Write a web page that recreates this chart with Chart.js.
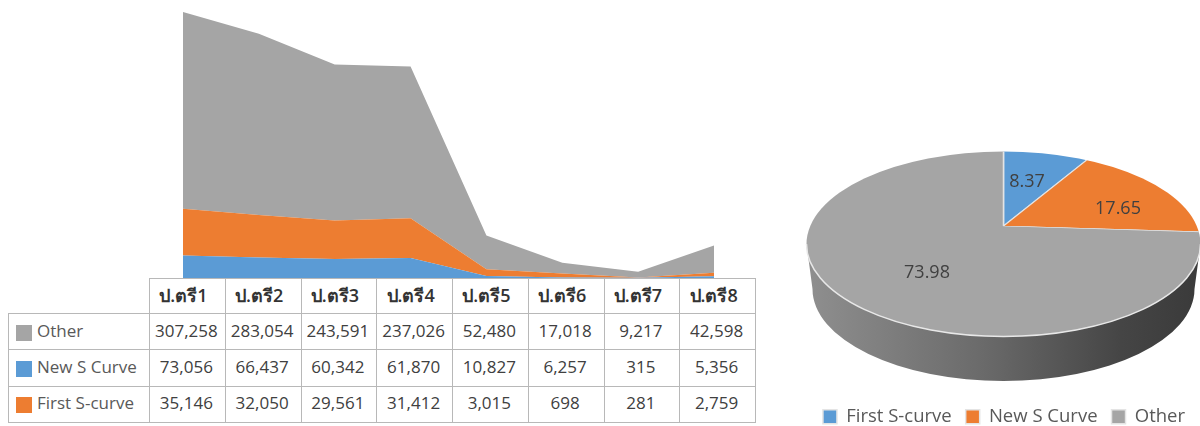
<!DOCTYPE html>
<html>
<head>
<meta charset="utf-8">
<title>S-curve</title>
<script src="https://cdn.jsdelivr.net/npm/chart.js@4"></script>
<style>
  html, body { margin: 0; padding: 0; background: #fff; width: 1200px; height: 426px; overflow: hidden; }
  body { position: relative; font-family: "Open Sans", "Noto Sans", sans-serif; color: #404040; }
  #areaChart { position: absolute; left: 183px; top: 12px; }
  #pieChart { position: absolute; left: 800px; top: 0; }
  #dataTable { position: absolute; left: 8px; top: 278px; border-collapse: collapse; table-layout: fixed; width: 747px; }
  #dataTable td, #dataTable th { box-sizing: border-box; border: 1.5px solid #b8b8b8; padding: 0 2px 3px 0; text-align: center; font-size: 17px; height: 36.3px; white-space: nowrap; }
  #dataTable th { font-weight: 600; font-size: 18px; color: #333; padding: 0 8px 2px 0; height: 35px; }
  #dataTable .blank { border-top: none; border-left: none; }
  #dataTable .name { text-align: left; padding-left: 7px; padding-right: 0; color: #595959; }
  .swatch { display: inline-block; width: 16px; height: 16px; margin-right: 5px; vertical-align: -4px; }
</style>
</head>
<body>
<canvas id="areaChart" width="531" height="266"></canvas>
<canvas id="pieChart" width="408" height="436"></canvas>
<table id="dataTable"></table>
<script>
// tables and series
const LEVELS = ["ป.ตรี1", "ป.ตรี2", "ป.ตรี3", "ป.ตรี4", "ป.ตรี5", "ป.ตรี6", "ป.ตรี7", "ป.ตรี8"];
const OTHER = [307258, 283054, 243591, 237026, 52480, 17018, 9217, 42598];
const NEW_S = [73056, 66437, 60342, 61870, 10827, 6257, 315, 5356];
const FIRST_S = [35146, 32050, 29561, 31412, 3015, 698, 281, 2759];

const SHARE_LABELS = ["First S-curve", "New S Curve", "Other"];
const SHARES = [8.37, 17.65, 73.98];

const BLUE = "#5b9bd5", ORANGE = "#ed7d31", GREY = "#a5a5a5";
const fmt = (n) => n.toLocaleString("en-US");

// --- table -------------------------------------------------------------------
// note: the original's table legend has the blue/orange keys swapped against the area, kept as is
const rows = [
  { name: "Other", color: GREY, values: OTHER },
  { name: "New S Curve", color: BLUE, values: NEW_S },
  { name: "First S-curve", color: ORANGE, values: FIRST_S },
];
document.getElementById("dataTable").innerHTML =
  `<colgroup><col style="width:141px">${LEVELS.map(() => `<col style="width:75.75px">`).join("")}</colgroup>` +
  `<tr><th class="blank"></th>${LEVELS.map((l) => `<th>${l}</th>`).join("")}</tr>` +
  rows.map((r) =>
    `<tr><td class="name"><span class="swatch" style="background:${r.color}"></span>${r.name}</td>` +
    r.values.map((v) => `<td>${fmt(v)}</td>`).join("") + `</tr>`).join("");

// --- stacked area ------------------------------------------------------------
function areaSet(label, data, color, fill) {
  return { label, data, backgroundColor: color, borderWidth: 0, pointRadius: 0, tension: 0, fill };
}
new Chart(document.getElementById("areaChart"), {
  type: "line",
  data: {
    labels: LEVELS,
    datasets: [
      areaSet("First S-curve", FIRST_S, BLUE, "origin"),
      areaSet("New S Curve", NEW_S, ORANGE, "-1"),
      areaSet("Other", OTHER, GREY, "-1"),
    ],
  },
  options: {
    responsive: false,
    animation: false,
    layout: { padding: 0 },
    plugins: { legend: { display: false }, tooltip: { enabled: false } },
    scales: {
      x: { display: false, offset: false },
      y: { display: false, stacked: true, min: 0, max: 415460 },
    },
  },
});

// --- pie with a fake 3D look -------------------------------------------------
// The original is a perspective pie: the apex sits above the middle of the top face.
// So the pie is drawn squashed around the apex and clipped to the face ellipse.
const FACE = { x: 203.5, y: 244, rx: 197, ry: 92.5 };
const APEX = { x: 203.5, y: 226 };
const SQUASH = 0.46;
const LABEL_POS = [[227, 182], [318, 209], [127, 273]];

const pie3d = {
  id: "pie3d",
  beforeDatasetsDraw(chart) {
    const ctx = chart.ctx;
    // rim
    const g = ctx.createLinearGradient(FACE.x - FACE.rx, 0, FACE.x + FACE.rx, 0);
    g.addColorStop(0, "#8f8f8f");
    g.addColorStop(0.45, "#6a6a6a");
    g.addColorStop(0.8, "#454545");
    g.addColorStop(1, "#3a3a3a");
    ctx.save();
    ctx.fillStyle = g;
    ctx.beginPath();
    ctx.moveTo(FACE.x - FACE.rx, FACE.y);
    ctx.lineTo(FACE.x - 191, 289);
    ctx.ellipse(FACE.x, 289, 191, 92, 0, Math.PI, 0, true);
    ctx.lineTo(FACE.x + FACE.rx, FACE.y);
    ctx.closePath();
    ctx.fill();
    ctx.restore();
    // face
    const arc = chart.getDatasetMeta(0).data[0];
    ctx.save();
    ctx.beginPath();
    ctx.ellipse(FACE.x, FACE.y, FACE.rx, FACE.ry, 0, 0, Math.PI * 2);
    ctx.clip();
    ctx.translate(APEX.x, APEX.y);
    ctx.scale(1, SQUASH);
    ctx.translate(-arc.x, -arc.y);
  },
  afterDatasetsDraw(chart) {
    const ctx = chart.ctx;
    ctx.restore();
    ctx.save();
    ctx.strokeStyle = "#e8e8e8";
    ctx.lineWidth = 1.5;
    ctx.beginPath();
    ctx.ellipse(FACE.x, FACE.y, FACE.rx, FACE.ry, 0, 0, Math.PI);
    ctx.stroke();
    ctx.fillStyle = "#404040";
    ctx.font = '18px "Open Sans", sans-serif';
    ctx.textAlign = "center";
    ctx.textBaseline = "middle";
    SHARES.forEach((v, i) => ctx.fillText(v.toFixed(2), LABEL_POS[i][0], LABEL_POS[i][1]));
    ctx.restore();
  },
};

new Chart(document.getElementById("pieChart"), {
  type: "pie",
  data: {
    labels: SHARE_LABELS,
    datasets: [{
      data: SHARES,
      backgroundColor: [BLUE, ORANGE, GREY],
      borderColor: "#e4e4e4",
      borderWidth: 1.5,
      radius: 300,
      clip: false,
    }],
  },
  options: {
    responsive: false,
    animation: false,
    plugins: {
      tooltip: { enabled: false },
      legend: {
        position: "bottom",
        labels: {
          boxWidth: 14, boxHeight: 14, padding: 14, color: "#595959",
          font: { family: "Open Sans", size: 18.5 },
        },
      },
    },
  },
  plugins: [pie3d],
});
</script>
</body>
</html>
